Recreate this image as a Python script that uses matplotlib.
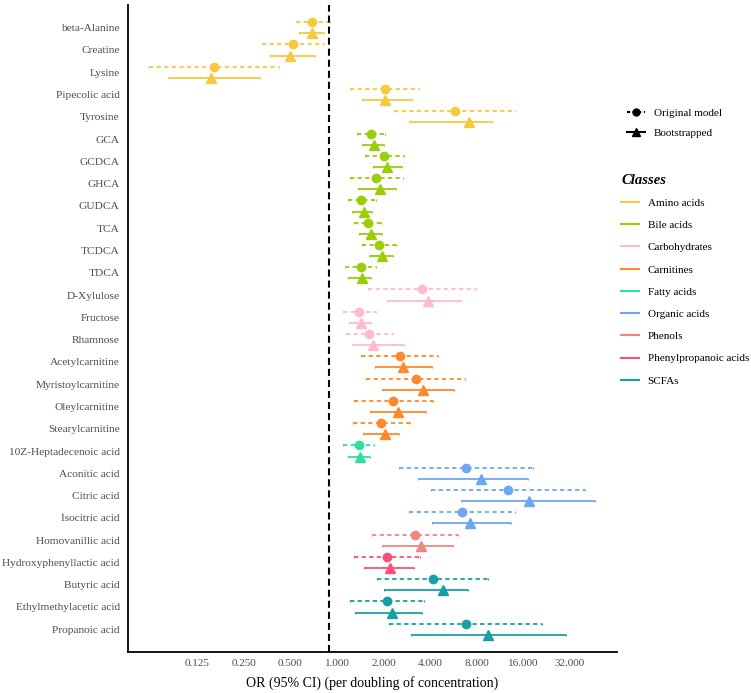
import numpy as np
import matplotlib
matplotlib.use("Agg")
import matplotlib.pyplot as plt
from matplotlib.lines import Line2D

plt.rcParams['font.family'] = ['Liberation Serif', 'DejaVu Serif']

metabolites = ["beta-Alanine", "Creatine", "Lysine", "Pipecolic acid", "Tyrosine",
               "GCA", "GCDCA", "GHCA", "GUDCA", "TCA", "TCDCA", "TDCA",
               "D-Xylulose", "Fructose", "Rhamnose",
               "Acetylcarnitine", "Myristoylcarnitine", "Oleylcarnitine", "Stearylcarnitine",
               "10Z-Heptadecenoic acid",
               "Aconitic acid", "Citric acid", "Isocitric acid",
               "Homovanillic acid", "Hydroxyphenyllactic acid",
               "Butyric acid", "Ethylmethylacetic acid", "Propanoic acid"]
classes = (["Amino acids"] * 5 + ["Bile acids"] * 7 + ["Carbohydrates"] * 3 +
           ["Carnitines"] * 4 + ["Fatty acids"] + ["Organic acids"] * 3 +
           ["Phenols"] + ["Phenylpropanoic acids"] + ["SCFAs"] * 3)

# original model
orig_or = [0.69, 0.52, 0.16, 2.03, 5.76, 1.65, 2.02, 1.80, 1.44, 1.58, 1.87, 1.42,
           3.54, 1.39, 1.61, 2.54, 3.22, 2.30, 1.92, 1.38, 6.84, 12.7, 6.39,
           3.18, 2.10, 4.15, 2.09, 6.78]
orig_lo = [0.54, 0.33, 0.061, 1.21, 2.35, 1.34, 1.52, 1.22, 1.18, 1.29, 1.46, 1.13,
           1.59, 1.09, 1.15, 1.44, 1.55, 1.29, 1.26, 1.10, 2.53, 4.07, 2.92,
           1.68, 1.29, 1.81, 1.21, 2.18]
orig_hi = [0.90, 0.82, 0.42, 3.40, 14.2, 2.05, 2.70, 2.68, 1.78, 1.93, 2.39, 1.79,
           7.9, 1.80, 2.29, 4.49, 6.71, 4.15, 2.98, 1.74, 18.5, 40.2, 14.1,
           6.02, 3.42, 9.5, 3.63, 21.1]
# bootstrapped
boot_or = [0.69, 0.50, 0.154, 2.05, 7.12, 1.73, 2.10, 1.91, 1.49, 1.65, 1.95, 1.45,
           3.89, 1.42, 1.72, 2.67, 3.58, 2.49, 2.03, 1.41, 8.56, 17.3, 7.19,
           3.47, 2.19, 4.84, 2.27, 9.5]
boot_lo = [0.57, 0.37, 0.081, 1.45, 2.93, 1.45, 1.72, 1.37, 1.25, 1.39, 1.61, 1.17,
           2.09, 1.20, 1.25, 1.76, 1.94, 1.64, 1.48, 1.18, 3.35, 6.32, 4.13,
           1.95, 1.49, 2.02, 1.31, 3.0]
boot_hi = [0.83, 0.72, 0.318, 3.07, 10.1, 2.01, 2.62, 2.39, 1.69, 1.96, 2.31, 1.67,
           6.32, 1.66, 2.70, 4.13, 5.67, 3.78, 2.50, 1.63, 17.2, 46.6, 13.3,
           5.59, 3.13, 7.05, 3.52, 30.2]

class_names = ["Amino acids", "Bile acids", "Carbohydrates", "Carnitines", "Fatty acids",
               "Organic acids", "Phenols", "Phenylpropanoic acids", "SCFAs"]
class_colors = ["#F7C93E", "#9ACD0A", "#FDBCCB", "#FD8A2A", "#2EE09E",
                "#6FA6F2", "#F0877F", "#FB4F7A", "#15A0A3"]
cmap = dict(zip(class_names, class_colors))

fig = plt.figure(figsize=(7.51, 6.93), dpi=100)
ax = fig.add_axes([0.1704, 0.0592, 0.6512, 0.9336])

ypos = np.arange(len(metabolites))
dash = (0, (2.4, 1.8))
for i, m in enumerate(metabolites):
    c = cmap[classes[i]]
    e1 = ax.errorbar(orig_or[i], ypos[i] - 0.25,
                     xerr=[[orig_or[i] - orig_lo[i]], [orig_hi[i] - orig_or[i]]],
                     fmt='o', color=c, ms=6, elinewidth=1.3, capsize=1.0, capthick=0.8)
    e1[2][0].set_linestyle(dash)
    ax.errorbar(boot_or[i], ypos[i] + 0.25,
                xerr=[[boot_or[i] - boot_lo[i]], [boot_hi[i] - boot_or[i]]],
                fmt='^', color=c, ms=7, elinewidth=1.3, capsize=1.0, capthick=0.8)

ax.axvline(0.89, color='black', lw=1.5, ls=(0, (3.4, 1.9)))

ax.set_xscale('log', base=2)
ax.set_xlim(2 ** -4.485, 2 ** 6.01)
ax.set_ylim(28.02, -1.02)
xt = [0.125, 0.25, 0.5, 1, 2, 4, 8, 16, 32]
ax.set_xticks(xt)
ax.set_xticklabels(["%.3f" % v for v in xt])
ax.minorticks_off()
ax.set_yticks(ypos)
ax.set_yticklabels(metabolites)
ax.tick_params(axis='y', length=0, pad=6, labelsize=8.2, labelcolor='#4D4D4D')
ax.tick_params(axis='x', length=0, pad=5, labelsize=8, labelcolor='#4D4D4D')
ax.set_xlabel("OR (95% CI) (per doubling of concentration)", fontsize=10, labelpad=6)
for s in ['top', 'right']:
    ax.spines[s].set_visible(False)
for s in ['left', 'bottom']:
    ax.spines[s].set_linewidth(1.3)

# legend for model type
style_handles = [Line2D([0], [0], color='black', ls=(0, (1.5, 1.2)), lw=1.5, marker='o', ms=5),
                 Line2D([0], [0], color='black', ls='-', lw=1.5, marker='^', ms=6)]
leg1 = fig.legend(style_handles, ["Original model", "Bootstrapped"],
                  loc='upper left', bbox_to_anchor=(627 / 751, 1 - 108 / 693),
                  frameon=False, fontsize=8, handlelength=1.6, handletextpad=0.8,
                  labelspacing=0.95, borderpad=0, borderaxespad=0)

class_handles = [Line2D([0], [0], color=c, lw=1.5) for c in class_colors]
leg2 = fig.legend(class_handles, class_names, title="Classes",
                  loc='upper left', bbox_to_anchor=(621 / 751, 1 - 174 / 693),
                  frameon=False, fontsize=8, handlelength=1.6, handletextpad=0.8,
                  labelspacing=1.12, borderpad=0, borderaxespad=0, alignment='left',
                  title_fontproperties={'size': 10.5, 'weight': 'bold', 'style': 'italic'})
leg2._legend_box.sep = 8

fig.savefig("out.png", dpi=100)
